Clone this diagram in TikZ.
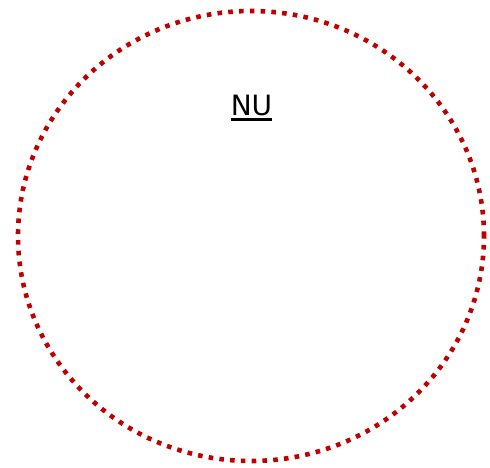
\documentclass[tikz,border=0pt]{standalone}
\usepackage{fontspec}
\setmainfont{DejaVu Sans}
\begin{document}
\begin{tikzpicture}[x=1pt,y=1pt,
  ring/.style={draw={rgb,255:red,192;green,0;blue,0}, line width=4.6pt, dash pattern=on 4.6pt off 6.2pt},
  lbl/.style={font=\fontsize{28}{32}\selectfont, inner sep=0pt, anchor=base}]
\useasboundingbox (0,0) rectangle (490,468);
\draw[ring] (251,232) ellipse [x radius=233, y radius=225];
\node[lbl] (nu) at (251.5,352) {NU};
\draw[line width=2.2pt] ([yshift=-3.5pt]nu.base west) -- ([yshift=-3.5pt]nu.base east);
\end{tikzpicture}
\end{document}
